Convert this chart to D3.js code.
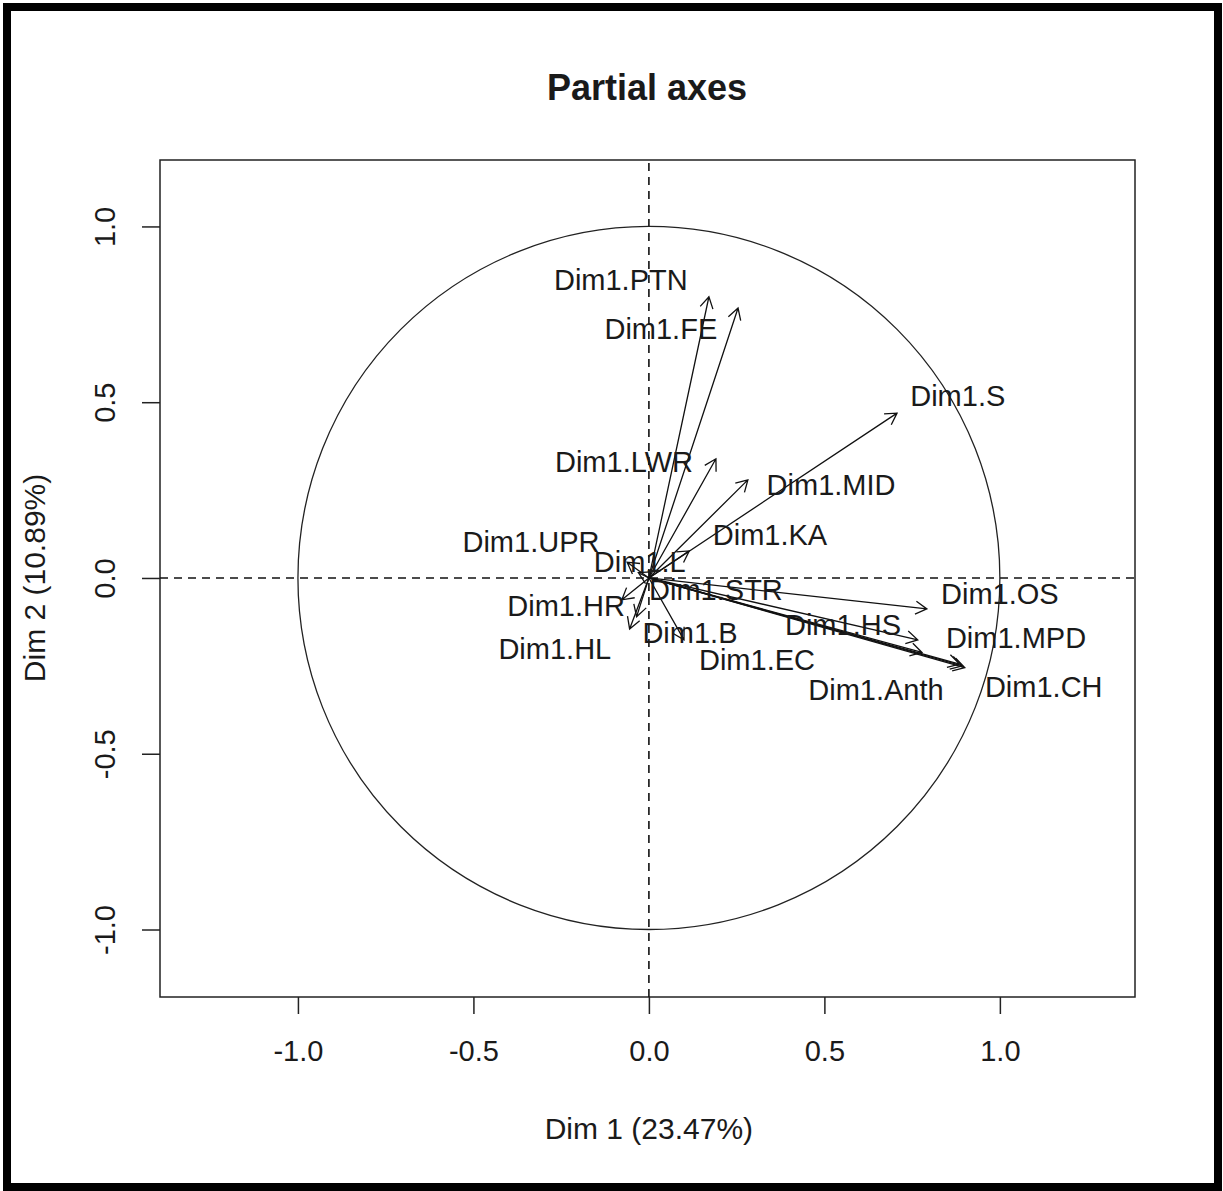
<!DOCTYPE html>
<html>
<head>
<meta charset="utf-8">
<script src="https://cdn.jsdelivr.net/npm/d3@7"></script>
<style>
  body { margin: 0; background: #fff; }
  text { font-family: "Liberation Sans", Arial, sans-serif; fill: #1a1a1a; }
</style>
</head>
<body>
<div id="chart"></div>
<script>
// variables of the partial axes plot
const names = ["PTN", "FE", "S", "LWR", "MID", "KA", "UPR", "L", "STR",
               "HR", "HL", "B", "HS", "OS", "MPD", "EC", "Anth", "CH"];
// arrow tips (Dim 1, Dim 2)
const dim1 = [0.171, 0.254, 0.707, 0.191, 0.282, 0.115, -0.062, -0.03, -0.035,
              -0.077, -0.055, 0.100, 0.766, 0.792, 0.778, 0.885, 0.893, 0.900];
const dim2 = [0.800, 0.768, 0.469, 0.339, 0.279, 0.077, 0.045, 0.015, -0.110,
              -0.062, -0.145, -0.176, -0.176, -0.088, -0.212, -0.245, -0.250, -0.255];
// where the labels sit (data units, label centre)
const labX = [-0.080, 0.034, 0.880, -0.071, 0.519, 0.345, -0.336, -0.026, 0.191,
              -0.236, -0.268, 0.117, 0.553, 1.000, 1.046, 0.308, 0.647, 1.125];
const labY = [0.848, 0.708, 0.518, 0.330, 0.265, 0.122, 0.102, 0.046, -0.034,
              -0.080, -0.202, -0.156, -0.134, -0.046, -0.171, -0.233, -0.319, -0.310];
const xTicks = [-1.0, -0.5, 0.0, 0.5, 1.0];
const yTicks = [-1.0, -0.5, 0.0, 0.5, 1.0];
const xLim = [-1.393, 1.385];
const yLim = [-1.192, 1.189];

const data = names.map((n, i) => ({ name: "Dim1." + n, x: dim1[i], y: dim2[i], lx: labX[i], ly: labY[i] }));

const W = 1223, H = 1191;
const margin = { top: 160, right: 88, bottom: 194, left: 160 };
const fmt = d => d.toFixed(1);

const svg = d3.select("#chart").append("svg")
  .attr("width", W).attr("height", H);

// outer frame
svg.append("rect")
  .attr("x", 7).attr("y", 7).attr("width", 1211).attr("height", 1180)
  .attr("fill", "none").attr("stroke", "#000").attr("stroke-width", 8);

const x = d3.scaleLinear().domain(xLim).range([margin.left, W - margin.right]);
const y = d3.scaleLinear().domain(yLim).range([H - margin.bottom, margin.top]);

// x axis
const xAxis = svg.append("g")
  .attr("transform", `translate(0,${H - margin.bottom})`)
  .call(d3.axisBottom(x).tickValues(xTicks).tickFormat(fmt).tickSize(17).tickPadding(26));
xAxis.select(".domain").remove();
xAxis.selectAll("line").attr("stroke", "#222").attr("stroke-width", 1.5);
xAxis.selectAll("text").style("font-size", "29px").attr("fill", "#1a1a1a")
  .style("font-family", "Liberation Sans, Arial, sans-serif");

// y axis with rotated labels
const yAxis = svg.append("g")
  .attr("transform", `translate(${margin.left},0)`)
  .call(d3.axisLeft(y).tickValues(yTicks).tickFormat(fmt).tickSize(18));
yAxis.select(".domain").remove();
yAxis.selectAll("line").attr("stroke", "#222").attr("stroke-width", 1.5);
yAxis.selectAll("text")
  .attr("x", null)
  .attr("text-anchor", "middle")
  .attr("transform", "translate(-55,0) rotate(-90)")
  .attr("dy", "0.35em")
  .style("font-size", "29px").attr("fill", "#1a1a1a")
  .style("font-family", "Liberation Sans, Arial, sans-serif");

// plot box
svg.append("rect")
  .attr("x", x(xLim[0])).attr("y", y(yLim[1]))
  .attr("width", x(xLim[1]) - x(xLim[0])).attr("height", y(yLim[0]) - y(yLim[1]))
  .attr("fill", "none").attr("stroke", "#222").attr("stroke-width", 1.5);

// dashed reference lines
svg.append("line")
  .attr("x1", x(xLim[0])).attr("x2", x(xLim[1]))
  .attr("y1", y(0)).attr("y2", y(0))
  .attr("stroke", "#111").attr("stroke-width", 1.6).attr("stroke-dasharray", "8,6");
svg.append("line")
  .attr("x1", x(0)).attr("x2", x(0))
  .attr("y1", y(yLim[0])).attr("y2", y(yLim[1]))
  .attr("stroke", "#111").attr("stroke-width", 1.6).attr("stroke-dasharray", "8,6");

// unit circle
svg.append("ellipse")
  .attr("cx", x(0)).attr("cy", y(0))
  .attr("rx", x(1) - x(0)).attr("ry", y(0) - y(1))
  .attr("fill", "none").attr("stroke", "#222").attr("stroke-width", 1.3);

// arrows
const headLen = 13, headAng = Math.PI / 6;
const arrows = svg.append("g");
data.forEach(d => {
  const x0 = x(0), y0 = y(0), x1 = x(d.x), y1 = y(d.y);
  const a = Math.atan2(y1 - y0, x1 - x0);
  const p = d3.path();
  p.moveTo(x0, y0); p.lineTo(x1, y1);
  p.moveTo(x1 - headLen * Math.cos(a - headAng), y1 - headLen * Math.sin(a - headAng));
  p.lineTo(x1, y1);
  p.lineTo(x1 - headLen * Math.cos(a + headAng), y1 - headLen * Math.sin(a + headAng));
  arrows.append("path")
    .attr("d", p.toString())
    .attr("fill", "none").attr("stroke", "#111").attr("stroke-width", 1.3);
});

// variable labels
svg.append("g").selectAll("text")
  .data(data).enter().append("text")
  .attr("x", d => x(d.lx)).attr("y", d => y(d.ly))
  .attr("text-anchor", "middle").attr("dy", "0.35em")
  .style("font-size", "29px")
  .text(d => d.name);

// title
svg.append("text")
  .attr("x", 647).attr("y", 100)
  .attr("text-anchor", "middle")
  .style("font-size", "36px").style("font-weight", "bold")
  .text("Partial axes");

// axis titles
svg.append("text")
  .attr("x", x(0)).attr("y", 1139)
  .attr("text-anchor", "middle")
  .style("font-size", "30px")
  .text("Dim 1 (23.47%)");
svg.append("text")
  .attr("transform", `translate(45,${y(0)}) rotate(-90)`)
  .attr("text-anchor", "middle")
  .style("font-size", "30px")
  .text("Dim 2 (10.89%)");
</script>
</body>
</html>
